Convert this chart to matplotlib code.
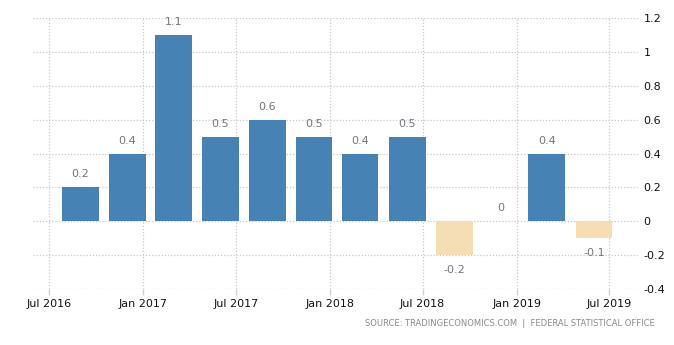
import matplotlib
matplotlib.use("Agg")
import matplotlib.pyplot as plt
import matplotlib.dates as mdates
import datetime as dt

# ---- data ----
quarters = ["2016-09", "2016-12", "2017-03", "2017-06", "2017-09", "2017-12",
            "2018-03", "2018-06", "2018-09", "2018-12", "2019-03", "2019-06"]
values = [0.2, 0.4, 1.1, 0.5, 0.6, 0.5, 0.4, 0.5, -0.2, 0.0, 0.4, -0.1]
value_labels = ["0.2", "0.4", "1.1", "0.5", "0.6", "0.5", "0.4", "0.5", "-0.2", "0", "0.4", "-0.1"]
x_tick_dates = ["2016-07", "2017-01", "2017-07", "2018-01", "2018-07", "2019-01", "2019-07"]
x_tick_labels = ["Jul 2016", "Jan 2017", "Jul 2017", "Jan 2018", "Jul 2018", "Jan 2019", "Jul 2019"]
y_ticks = [-0.4, -0.2, 0.0, 0.2, 0.4, 0.6, 0.8, 1.0, 1.2]
y_tick_labels = ["-0.4", "-0.2", "0", "0.2", "0.4", "0.6", "0.8", "1", "1.2"]
source_text = "SOURCE: TRADINGECONOMICS.COM  |  FEDERAL STATISTICAL OFFICE"

def to_date(s):
    return dt.datetime.strptime(s + "-01", "%Y-%m-%d")

dates = [to_date(q) for q in quarters]
tick_dates = [to_date(t) for t in x_tick_dates]

plt.rcParams["font.family"] = ["DejaVu Sans"]

fig = plt.figure(figsize=(6.74, 3.45), dpi=100)
ax = fig.add_axes([33 / 674, (345 - 289) / 345, (638 - 33) / 674, (289 - 18.3) / 345])

pos_color = "#4682B4"
neg_color = "#F5DEB3"
colors = [pos_color if v >= 0 else neg_color for v in values]
ax.bar(dates, values, width=72, color=colors, zorder=3)

for d, v, lab in zip(dates, values, value_labels):
    if v >= 0:
        off = 13 * 0.72
    else:
        off = -15 * 0.72
    ax.annotate(lab, (d, v), xytext=(0, off), textcoords="offset points",
                ha="center", va="center", fontsize=8, color="#75757d", zorder=4)

ax.set_ylim(-0.4, 1.2)
ax.set_xlim(dt.datetime(2016, 5, 31), dt.datetime(2019, 8, 26))

ax.set_yticks(y_ticks)
ax.set_yticklabels(y_tick_labels)
ax.yaxis.tick_right()
ax.tick_params(axis="y", length=0, pad=4, labelsize=8, labelcolor="#111111")

ax.set_xticks(tick_dates)
ax.set_xticklabels(x_tick_labels)
ax.tick_params(axis="x", length=4, width=1, color="#d0d0d0", pad=3, labelsize=8, labelcolor="#111111")

ax.grid(True, which="major", linestyle=(0, (1, 1.5)), color="#c8c8c8", linewidth=0.9, zorder=0)
for s in ax.spines.values():
    s.set_visible(False)

fig.text(655 / 674, (345 - 324) / 345, source_text, ha="right", va="center",
         fontsize=6, color="#8a8a8a")

fig.savefig("out.png", dpi=100)
